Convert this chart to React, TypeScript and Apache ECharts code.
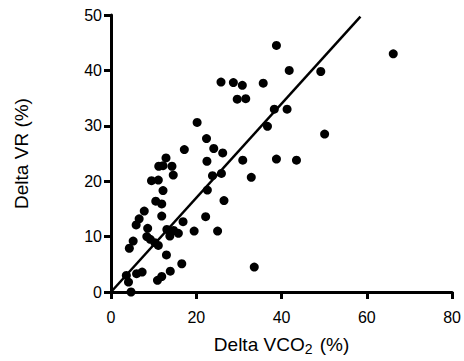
import React, { useEffect, useRef } from "react";
import * as echarts from "echarts";

const deltaVCO2 = [
  66.2, 49.2, 50.1, 38.8, 41.8, 38.3, 41.3, 38.8, 43.5, 36.7,
  25.8, 28.7, 30.8, 35.7, 29.6, 31.6, 20.2, 22.4, 24.1, 26.2,
  22.5, 30.9, 23.8, 25.9, 32.9, 22.6, 26.5, 22.2, 19.5, 25.0,
  33.6, 17.2, 12.9, 11.2, 12.2, 14.3, 14.6, 9.5, 11.1, 12.2,
  10.5, 11.9, 7.8, 6.6, 5.9, 11.9, 8.6, 16.9, 13.1, 14.7,
  15.8, 13.8, 8.4, 9.2, 10.3, 11.1, 5.2, 4.3, 13.0, 16.6,
  13.9, 11.9, 10.9, 7.3, 6.0, 3.6, 4.1, 4.7,
];
const deltaVR = [
  43.0, 39.8, 28.5, 44.5, 40.0, 33.0, 33.0, 24.0, 23.8, 29.9,
  37.9, 37.8, 37.3, 37.7, 34.8, 34.9, 30.6, 27.7, 25.9, 25.1,
  23.6, 23.8, 21.0, 21.4, 20.7, 18.4, 16.5, 13.6, 11.0, 11.0,
  4.5, 25.7, 24.2, 22.7, 22.8, 22.7, 21.1, 20.1, 20.2, 18.3,
  16.4, 15.9, 14.6, 13.2, 12.1, 13.7, 11.5, 12.7, 11.3, 11.1,
  10.6, 10.1, 10.0, 9.5, 8.9, 8.4, 9.2, 7.9, 6.7, 5.1,
  3.75, 2.8, 2.1, 3.6, 3.3, 3.0, 1.8, 0,
];
const fitX = [0, 58.5];
const fitY = [0, 49.7];
const xTicks = [0, 20, 40, 60, 80];
const yTicks = [0, 10, 20, 30, 40, 50];

const FONT = "Arial, 'Liberation Sans', Helvetica, sans-serif";

export default function App() {
  const ref = useRef<HTMLDivElement>(null);
  useEffect(() => {
    if (!ref.current) return;
    const chart = echarts.init(ref.current, undefined, { renderer: "svg" });
    const points = deltaVCO2.map((x, i) => [x, deltaVR[i]]);
    const fit = fitX.map((x, i) => [x, fitY[i]]);
    const axisLine = { show: true, onZero: false, lineStyle: { color: "#000", width: 3 } };
    const axisTick = { show: true, length: 7, inside: false, lineStyle: { color: "#000", width: 3 } };
    chart.setOption({
      animation: false,
      backgroundColor: "#fff",
      grid: { left: 111, right: 11, top: 15, bottom: 66, containLabel: false },
      xAxis: {
        type: "value",
        min: xTicks[0],
        max: xTicks[xTicks.length - 1],
        interval: 20,
        axisLine,
        axisTick,
        splitLine: { show: false },
        axisLabel: { color: "#000", fontSize: 16, fontFamily: FONT, margin: 17 },
        name: "{a|Delta VCO}{b|2}{a| (%)}",
        nameLocation: "middle",
        nameGap: 40,
        nameTextStyle: {
          color: "#000",
          fontFamily: FONT,
          rich: {
            a: { fontSize: 19, fontFamily: FONT, color: "#000" },
            b: { fontSize: 14, fontFamily: FONT, color: "#000", padding: [10, 2, 0, 0] },
          },
        },
      },
      yAxis: {
        type: "value",
        min: yTicks[0],
        max: yTicks[yTicks.length - 1],
        interval: 10,
        axisLine,
        axisTick,
        splitLine: { show: false },
        axisLabel: { color: "#000", fontSize: 16, fontFamily: FONT, margin: 9 },
        name: "Delta VR (%)",
        nameLocation: "middle",
        nameGap: 80,
        nameTextStyle: { color: "#000", fontSize: 19, fontFamily: FONT },
      },
      series: [
        {
          type: "scatter",
          data: points,
          symbol: "circle",
          symbolSize: 9,
          itemStyle: { color: "#000", opacity: 1 },
          clip: false,
          z: 3,
        },
        {
          type: "line",
          data: fit,
          showSymbol: false,
          symbol: "none",
          lineStyle: { color: "#000", width: 2.5 },
          z: 2,
        },
      ],
    });
    return () => chart.dispose();
  }, []);
  return <div ref={ref} style={{ width: 464, height: 361, position: "absolute", left: 0, top: 0 }} />;
}
